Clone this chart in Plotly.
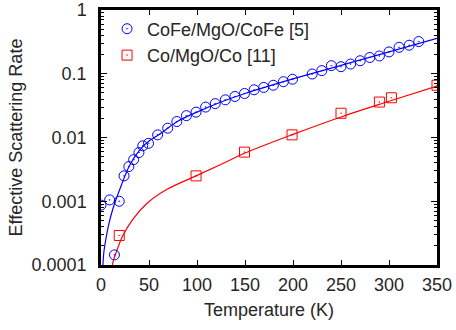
import plotly.graph_objects as go

# Data
cofe_T = [0, 9, 14, 19, 24, 29, 34, 39.5, 43.5, 49.5, 59, 69.5, 79, 89, 99, 109, 119, 129.5,
          139.5, 149.5, 159.5, 169.5, 179.5, 190, 199.5, 220, 230, 240, 250, 260, 270, 280,
          290, 300, 310.5, 321, 331]
cofe_rate = [0.00087, 0.00105, 0.000144, 0.001, 0.0025, 0.0035, 0.0045, 0.0058, 0.0074, 0.0081,
             0.011, 0.014, 0.0178, 0.022, 0.025, 0.030, 0.034, 0.039, 0.044, 0.049, 0.056,
             0.061, 0.066, 0.075, 0.082, 0.099, 0.112, 0.134, 0.129, 0.142, 0.16, 0.18, 0.19,
             0.22, 0.26, 0.28, 0.32]

co_T = [19, 99, 149.5, 199, 250, 290, 302.5, 350]
co_rate = [0.00029, 0.0025, 0.0059, 0.011, 0.024, 0.036, 0.042, 0.066]

cofe_fit_T = [2, 3, 5, 8, 12, 16, 20, 25, 30, 40, 50, 60, 80, 100, 125, 150, 200, 250, 300, 350]
cofe_fit_rate = [0.0001, 0.00016, 0.00025, 0.00043, 0.00073, 0.0011, 0.0016, 0.0025, 0.0037,
                 0.0063, 0.0088, 0.011, 0.018, 0.025, 0.036, 0.049, 0.083, 0.135, 0.22, 0.36]

co_fit_T = [11.8, 13, 15.3, 22.3, 32.7, 48, 67.5, 99, 127, 150, 200, 250, 300, 350]
co_fit_rate = [0.0001, 0.000118, 0.00015, 0.00028, 0.00051, 0.00093, 0.0015, 0.0025, 0.0039,
               0.0057, 0.0112, 0.021, 0.037, 0.064]

x_ticks = [0, 50, 100, 150, 200, 250, 300, 350]
y_ticks = [0.0001, 0.001, 0.01, 0.1, 1]
y_tick_text = ["0.0001", "0.001", "0.01", "0.1", "1"]

BLUE = "#0000ff"
RED = "#ff0000"
TXT = "#262626"
FONT = "Liberation Sans, Arial, sans-serif"
FS = 18

fig = go.Figure()
fig.add_trace(go.Scatter(x=cofe_fit_T, y=cofe_fit_rate, mode="lines", line=dict(color=BLUE, width=1.2, shape="spline"),
                         showlegend=False, hoverinfo="skip"))
fig.add_trace(go.Scatter(x=co_fit_T, y=co_fit_rate, mode="lines", line=dict(color=RED, width=1.2, shape="spline"),
                         showlegend=False, hoverinfo="skip"))
fig.add_trace(go.Scatter(x=cofe_T, y=cofe_rate, mode="markers", name="CoFe/MgO/CoFe [5]",
                         marker=dict(symbol="circle-open-dot", size=10, color=BLUE, line=dict(width=1, color=BLUE))))
fig.add_trace(go.Scatter(x=co_T, y=co_rate, mode="markers", name="Co/MgO/Co [11]",
                         marker=dict(symbol="square-open-dot", size=10, color=RED, line=dict(width=1, color=RED))))

axis_common = dict(showline=True, linecolor="black", linewidth=2.5, mirror="ticks", ticks="inside",
                   tickcolor="black", showgrid=False, zeroline=False, tickfont=dict(size=FS, color=TXT, family=FONT))

fig.update_xaxes(range=[0, 350], tickvals=x_ticks, ticklen=5, tickwidth=1, ticklabelstandoff=2,
                 title=dict(text="Temperature (K)", font=dict(size=FS, color=TXT, family=FONT), standoff=10),
                 **axis_common)
fig.update_yaxes(type="log", range=[-4, 0], tickvals=y_ticks, ticktext=y_tick_text, ticklen=6, tickwidth=1,
                 ticklabelstandoff=8,
                 minor=dict(ticks="inside", ticklen=3, tickcolor="black", dtick="D1", showgrid=False),
                 title=dict(text="Effective Scattering Rate", font=dict(size=FS, color=TXT, family=FONT), standoff=5),
                 **axis_common)

fig.update_layout(
    width=456, height=330,
    margin=dict(l=101, r=19, t=10, b=65, autoexpand=False),
    plot_bgcolor="white", paper_bgcolor="white",
    font=dict(family=FONT, color=TXT),
    legend=dict(x=0.018, y=0.998, xanchor="left", yanchor="top", bgcolor="rgba(0,0,0,0)",
                font=dict(size=FS, color=TXT, family=FONT), itemwidth=30, tracegroupgap=0),
)

fig.write_html("out.html")
